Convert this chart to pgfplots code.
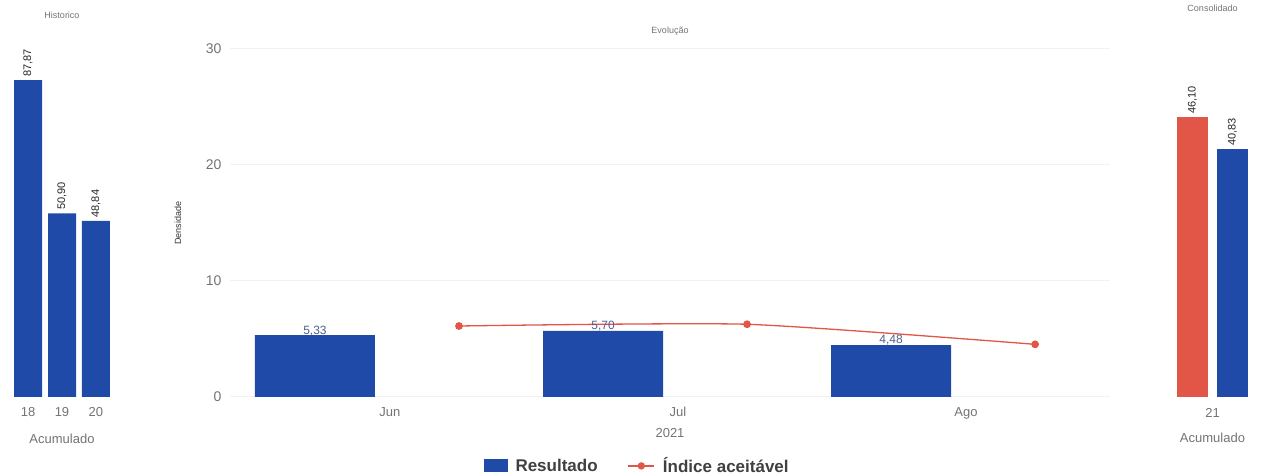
\documentclass[border=0pt]{standalone}
\usepackage{pgfplots}
\pgfplotsset{compat=1.18}
\usepackage{fontspec}
\setmainfont{Liberation Sans}
\pgfkeys{/pgf/number format/assume math mode=true}
\definecolor{bblue}{RGB}{31,74,168}
\definecolor{rred}{RGB}{226,86,72}
\definecolor{tgrey}{RGB}{115,115,115}
\definecolor{lblue}{RGB}{80,95,140}
\begin{document}
\begin{tikzpicture}
\useasboundingbox (0,0) rectangle (1277pt,476pt);
% ---------------- left panel
\begin{axis}[at={(8pt,79pt)}, anchor=south west, scale only axis,
  /pgf/number format/assume math mode=true,
  width=108pt, height=357pt, xmin=17.41, xmax=20.59, ymin=0, ymax=99,
  axis line style={draw=none}, tick style={draw=none}, ytick=\empty,
  xtick={18,19,20},
  xticklabel style={font=\fontsize{13}{13}\selectfont, text=tgrey, yshift=-7pt},
  xlabel={Acumulado}, xlabel style={font=\fontsize{13}{13}\selectfont, text=tgrey, yshift=-10pt},
  title={Historico}, title style={at={(axis description cs:0.5,1)}, anchor=center, yshift=19pt, font=\fontsize{9}{9}\selectfont, text=tgrey},
  clip=false]
\addplot[ybar, bar width=28pt, fill=bblue, draw=none,
  nodes near coords={\pgfmathprintnumber[fixed,fixed zerofill,precision=2,use comma,assume math mode=true]{\pgfplotspointmeta}},
  every node near coord/.append style={rotate=90, anchor=west, font=\fontsize{11}{11}\selectfont, text=black!85}]
  coordinates {(18,87.87) (19,50.90) (20,48.84)};
\end{axis}
% ---------------- centre panel
\begin{axis}[at={(230pt,79pt)}, anchor=south west, scale only axis,
  /pgf/number format/assume math mode=true,
  width=880pt, height=348pt, xmin=-0.295, xmax=2.76, ymin=0, ymax=30,
  axis line style={draw=none}, tick style={draw=none},
  ytick={0,10,20,30}, ymajorgrids, grid style={draw=gray!10, line width=1pt},
  yticklabel style={font=\fontsize{14}{14}\selectfont, text=tgrey, xshift=-5pt},
  xtick={0.26,1.26,2.26}, xticklabels={Jun,Jul,Ago},
  xticklabel style={font=\fontsize{13}{13}\selectfont, text=tgrey, yshift=-7pt},
  xlabel={2021}, xlabel style={font=\fontsize{13}{13}\selectfont, text=tgrey, yshift=-2pt},
  ylabel={Densidade}, ylabel style={at={(axis description cs:0,0.5)}, anchor=center, yshift=52pt, font=\fontsize{9}{9}\selectfont, text=black!80},
  title={Evolução}, title style={at={(axis description cs:0.5,1)}, anchor=center, yshift=12pt, font=\fontsize{9}{9}\selectfont, text=tgrey},
  legend columns=2,
  legend style={at={(0.466,-0.198)}, anchor=center, draw=none, fill=none,
    font=\fontsize{17}{17}\selectfont\bfseries, text=black!75,
    nodes={inner xsep=8pt},
    /tikz/every even column/.append style={column sep=22pt}},
  clip=false]
\addplot[ybar, bar width=120pt, fill=bblue, draw=none,
  nodes near coords={\pgfmathprintnumber[fixed,fixed zerofill,precision=2,use comma,assume math mode=true]{\pgfplotspointmeta}},
  every node near coord/.append style={anchor=south, yshift=-4pt, font=\fontsize{12}{12}\selectfont, text=lblue},
  legend image code/.code={\fill[bblue] (0pt,-6pt) rectangle (24pt,7pt);}]
  coordinates {(0,5.33) (1,5.70) (2,4.48)};
\addlegendentry{Resultado}
\addplot[rred, line width=1.3pt, smooth, tension=0.35, mark=*, mark size=3.2pt,
  legend image code/.code={\draw[rred, line width=1.3pt] (0pt,0pt) -- (26pt,0pt); \fill[rred] (13pt,0pt) circle (3pt);}]
  coordinates {(0.5,6.12) (1.5,6.27) (2.5,4.54)};
\addlegendentry{Índice aceitável}
\end{axis}
% ---------------- right panel
\begin{axis}[at={(1165pt,79pt)}, anchor=south west, scale only axis,
  /pgf/number format/assume math mode=true,
  width=95pt, height=357pt, xmin=20.5, xmax=21.5, ymin=0, ymax=58.8,
  ybar=9pt, bar width=31pt,
  axis line style={draw=none}, tick style={draw=none}, ytick=\empty,
  xtick={21},
  xticklabel style={font=\fontsize{13}{13}\selectfont, text=tgrey, yshift=-4pt},
  xlabel={Acumulado}, xlabel style={font=\fontsize{13}{13}\selectfont, text=tgrey, yshift=-8pt},
  title={Consolidado}, title style={at={(axis description cs:0.5,1)}, anchor=center, yshift=26pt, font=\fontsize{9}{9}\selectfont, text=tgrey},
  nodes near coords={\pgfmathprintnumber[fixed,fixed zerofill,precision=2,use comma,assume math mode=true]{\pgfplotspointmeta}},
  every node near coord/.append style={rotate=90, anchor=west, font=\fontsize{11}{11}\selectfont, text=black!85},
  clip=false]
\addplot[fill=rred, draw=none] coordinates {(21,46.10)};
\addplot[fill=bblue, draw=none] coordinates {(21,40.83)};
\end{axis}
\end{tikzpicture}
\end{document}
